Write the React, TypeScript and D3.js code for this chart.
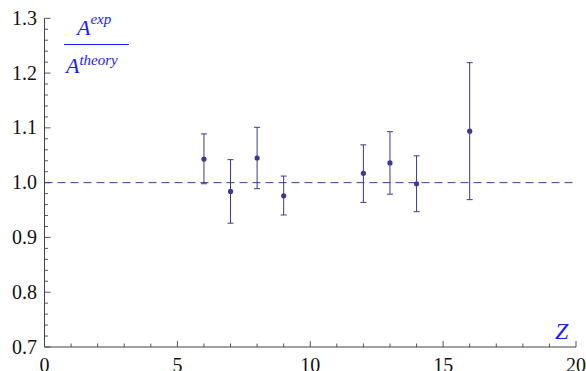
import React from 'react';
import * as d3 from 'd3';

// measured ratio A_exp / A_theory against Z
const zValues = [6, 7, 8, 9, 12, 13, 14, 16];
const ratio = [1.043, 0.984, 1.045, 0.976, 1.017, 1.036, 0.998, 1.094];
const errHigh = [1.089, 1.042, 1.101, 1.012, 1.069, 1.093, 1.049, 1.219];
const errLow = [0.998, 0.926, 0.989, 0.941, 0.964, 0.979, 0.947, 0.969];

const xTicks = [0, 5, 10, 15, 20];
const yTicks = [0.7, 0.8, 0.9, 1.0, 1.1, 1.2, 1.3];

const W = 586;
const H = 371;
const ink = '#444';
const markColor = '#3a3a96';
const labelBlue = '#1a1aff';

const App = () => {
  const x = d3.scaleLinear().domain([0, 20]).range([44.5, 576]);
  const y = d3.scaleLinear().domain([0.7, 1.3]).range([347, 18.3]);

  const xMinor = d3.range(0, 21, 1);
  const yMinor = d3.range(0, 31, 1).map(i => 0.7 + i * 0.02);

  return (
    <svg width={W} height={H} style={{ position: 'absolute', left: 0, top: 0 }}>
      {/* y axis */}
      <line x1={x(0)} x2={x(0)} y1={y(1.3)} y2={y(0.7)} stroke={ink} strokeWidth={1} />
      {yMinor.map((v, i) => (
        <line key={'ym' + i} x1={x(0)} x2={x(0) + (i % 5 === 0 ? 6 : 3.5)} y1={y(v)} y2={y(v)} stroke={ink} strokeWidth={0.9} />
      ))}
      {yTicks.map(v => (
        <text key={'yl' + v} x={37} y={y(v) + 6.5} textAnchor="end" fill="#111" style={{ fontFamily: "'Liberation Serif'", fontSize: 20 }}>
          {d3.format('.1f')(v)}
        </text>
      ))}

      {/* x axis */}
      <line x1={x(0)} x2={x(20)} y1={y(0.7)} y2={y(0.7)} stroke={ink} strokeWidth={1} />
      {xMinor.map(v => (
        <line key={'xm' + v} x1={x(v)} x2={x(v)} y1={y(0.7)} y2={y(0.7) - (v % 5 === 0 ? 6 : 3.5)} stroke={ink} strokeWidth={0.9} />
      ))}
      {xTicks.map(v => (
        <text key={'xl' + v} x={x(v)} y={372} textAnchor="middle" fill="#111" style={{ fontFamily: "'Times New Roman'", fontSize: 20 }}>
          {v}
        </text>
      ))}

      {/* reference line at 1 */}
      <line x1={x(0)} x2={x(20)} y1={y(1)} y2={y(1)} stroke={markColor} strokeWidth={1} strokeDasharray="8,5" />

      {/* error bars and points */}
      {zValues.map((z, i) => (
        <g key={'p' + z}>
          <line x1={x(z)} x2={x(z)} y1={y(errHigh[i])} y2={y(errLow[i])} stroke={markColor} strokeWidth={1} />
          <line x1={x(z) - 3} x2={x(z) + 3} y1={y(errHigh[i])} y2={y(errHigh[i])} stroke={markColor} strokeWidth={1} />
          <line x1={x(z) - 3} x2={x(z) + 3} y1={y(errLow[i])} y2={y(errLow[i])} stroke={markColor} strokeWidth={1} />
          <circle cx={x(z)} cy={y(ratio[i])} r={2.6} fill={markColor} />
        </g>
      ))}

      {/* axis labels */}
      <text x={77} y={35} fill={labelBlue} style={{ fontFamily: "'Liberation Serif'", fontStyle: 'italic', fontSize: 22 }}>
        A<tspan dy={-11} style={{ fontSize: 15 }}>exp</tspan>
      </text>
      <line x1={64} x2={129} y1={44.5} y2={44.5} stroke={labelBlue} strokeWidth={1.2} />
      <text x={66} y={73} fill={labelBlue} style={{ fontFamily: "'Liberation Serif'", fontStyle: 'italic', fontSize: 22 }}>
        A<tspan dy={-8} style={{ fontSize: 15 }}>theory</tspan>
      </text>
      <text x={555} y={339} fill={labelBlue} style={{ fontFamily: "'Liberation Serif'", fontStyle: 'italic', fontSize: 24 }}>Z</text>
    </svg>
  );
};

export default App;
